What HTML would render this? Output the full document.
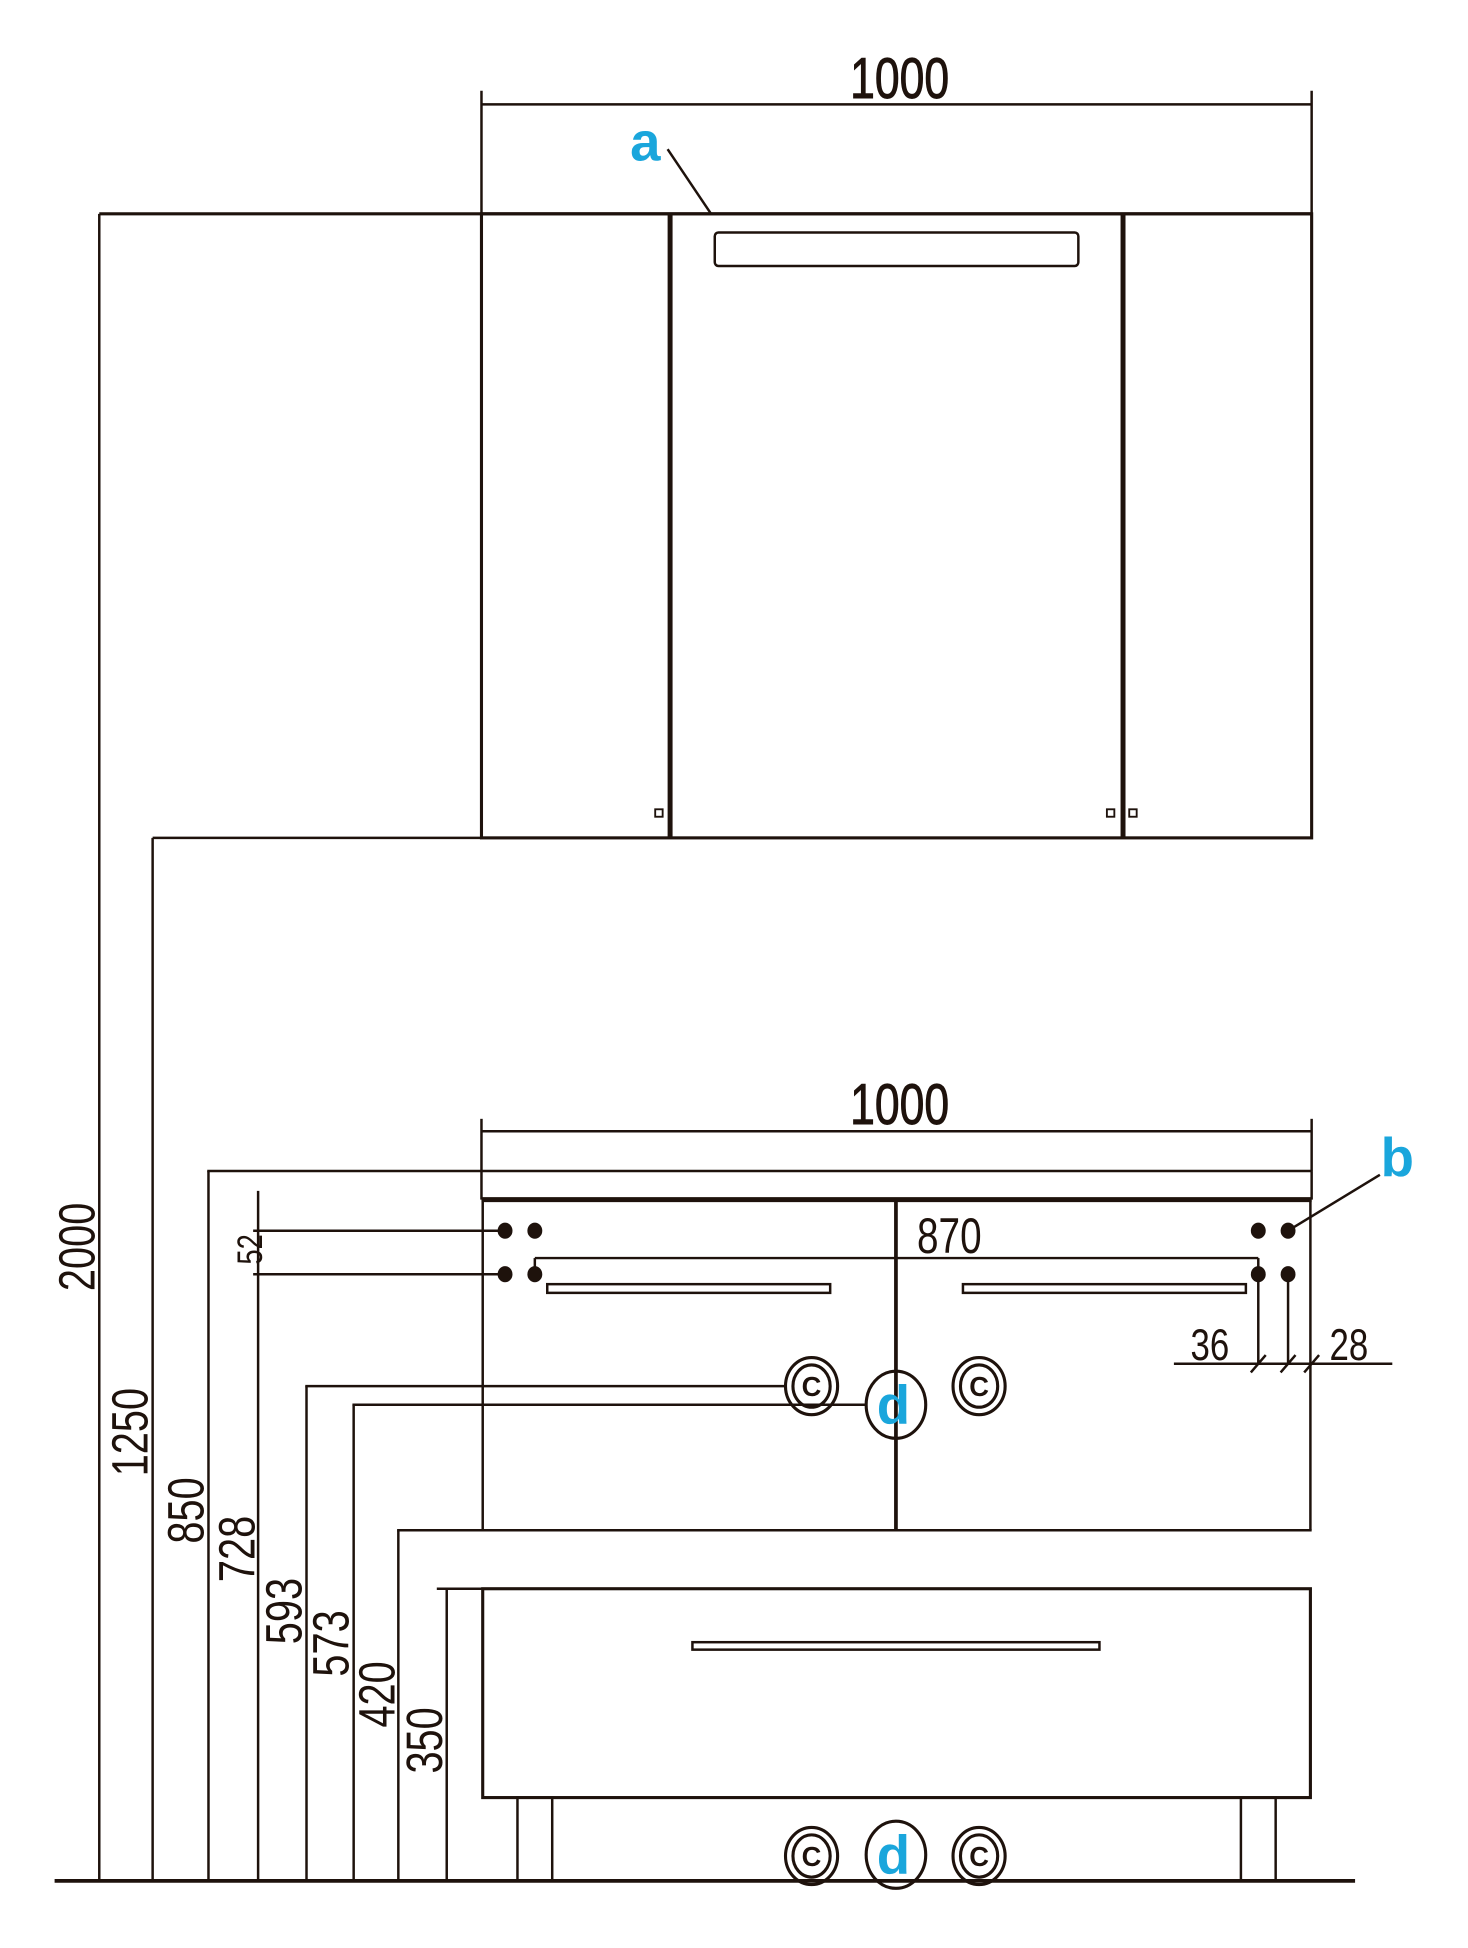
<!DOCTYPE html>
<html><head><meta charset="utf-8"><style>
html,body{margin:0;padding:0;background:#fff;}
svg{display:block;}
text{font-family:"Liberation Sans",sans-serif;fill:#1e120c;}
</style></head><body>
<svg width="1468" height="1948" viewBox="0 0 1183 1567" preserveAspectRatio="none" xmlns="http://www.w3.org/2000/svg">
<g stroke="#1e120c" fill="none" stroke-width="2">
<line x1="388" y1="84" x2="1057" y2="84"/>
<line x1="388" y1="73" x2="388" y2="172"/>
<line x1="1057" y1="73" x2="1057" y2="172"/>
<line x1="80" y1="172" x2="1057" y2="172" stroke-width="2.5"/>
<rect x="388" y="172" width="669" height="502" stroke-width="2.5"/>
<line x1="540" y1="172" x2="540" y2="674" stroke-width="4"/>
<line x1="905" y1="172" x2="905" y2="674" stroke-width="4"/>
<rect x="576" y="187" width="293" height="27" rx="3" stroke-width="2"/>
<rect x="528" y="651" width="6" height="6" stroke-width="1.5"/>
<rect x="892" y="651" width="6" height="6" stroke-width="1.5"/>
<rect x="910" y="651" width="6" height="6" stroke-width="1.5"/>
<line x1="538" y1="120" x2="573" y2="172"/>
<line x1="80" y1="172" x2="80" y2="1513"/>
<line x1="123" y1="674" x2="388" y2="674"/>
<line x1="123" y1="674" x2="123" y2="1513"/>
<line x1="388" y1="910" x2="1057" y2="910"/>
<line x1="388" y1="900" x2="388" y2="942"/>
<line x1="1057" y1="900" x2="1057" y2="942"/>
<line x1="167" y1="942" x2="1057" y2="942"/>
<line x1="168" y1="942" x2="168" y2="1513"/>
<line x1="388" y1="942" x2="388" y2="965"/>
<line x1="1057" y1="942" x2="1057" y2="965"/>
<line x1="388" y1="965" x2="1057" y2="965" stroke-width="4"/>
<line x1="208" y1="958" x2="208" y2="1513"/>
<line x1="204" y1="990" x2="407" y2="990"/>
<line x1="204" y1="1025" x2="407" y2="1025"/>
<line x1="389" y1="965" x2="389" y2="1231"/>
<line x1="1056" y1="965" x2="1056" y2="1231"/>
<line x1="722" y1="965" x2="722" y2="1231" stroke-width="3"/>
<line x1="320" y1="1231" x2="1057" y2="1231"/>
<line x1="431" y1="1012" x2="1014" y2="1012"/>
<line x1="431" y1="1012" x2="431" y2="1025"/>
<line x1="1014" y1="1012" x2="1014" y2="1025"/>
<rect x="441" y="1033" width="228" height="7"/>
<rect x="776" y="1033" width="228" height="7"/>
<line x1="1014" y1="1025" x2="1014" y2="1097"/>
<line x1="1038" y1="1025" x2="1038" y2="1097"/>
<line x1="946" y1="1097" x2="1122" y2="1097"/>
<line x1="1008" y1="1104" x2="1020" y2="1090"/>
<line x1="1032" y1="1104" x2="1044" y2="1090"/>
<line x1="1051" y1="1104" x2="1063" y2="1090"/>
<line x1="1038" y1="990" x2="1112" y2="945"/>
<line x1="246" y1="1115" x2="633" y2="1115"/>
<line x1="247" y1="1115" x2="247" y2="1513"/>
<line x1="284" y1="1130" x2="698" y2="1130"/>
<line x1="285" y1="1130" x2="285" y2="1513"/>
<line x1="321" y1="1231" x2="321" y2="1513"/>
<line x1="352" y1="1278" x2="1057" y2="1278"/>
<line x1="360" y1="1278" x2="360" y2="1513"/>
<rect x="389" y="1278" width="667" height="168" stroke-width="2.5"/>
<rect x="558" y="1321" width="328" height="6"/>
<rect x="417" y="1446" width="28" height="67"/>
<rect x="1000" y="1446" width="28" height="67"/>
<line x1="44" y1="1513" x2="1092" y2="1513" stroke-width="3"/>
<g stroke-width="2.5">
<ellipse cx="654" cy="1115" rx="21" ry="23"/><ellipse cx="654" cy="1115" rx="15" ry="17"/>
<ellipse cx="789" cy="1115" rx="21" ry="23"/><ellipse cx="789" cy="1115" rx="15" ry="17"/>
<ellipse cx="722" cy="1130" rx="24" ry="27"/>
<ellipse cx="654" cy="1493" rx="21" ry="23"/><ellipse cx="654" cy="1493" rx="15" ry="17"/>
<ellipse cx="789" cy="1493" rx="21" ry="23"/><ellipse cx="789" cy="1493" rx="15" ry="17"/>
<ellipse cx="722" cy="1492" rx="24" ry="27"/>
</g>
</g>
<g fill="#1e120c">
<ellipse cx="407" cy="990" rx="6" ry="6.5"/><ellipse cx="431" cy="990" rx="6" ry="6.5"/>
<ellipse cx="407" cy="1025" rx="6" ry="6.5"/><ellipse cx="431" cy="1025" rx="6" ry="6.5"/>
<ellipse cx="1014" cy="990" rx="6" ry="6.5"/><ellipse cx="1038" cy="990" rx="6" ry="6.5"/>
<ellipse cx="1014" cy="1025" rx="6" ry="6.5"/><ellipse cx="1038" cy="1025" rx="6" ry="6.5"/>
</g>
<g font-size="22" font-weight="bold" text-anchor="middle">
<text x="654" y="1123">C</text><text x="789" y="1123">C</text>
<text x="654" y="1501">C</text><text x="789" y="1501">C</text>
</g>
<g font-size="46">
<text transform="translate(725,79) scale(0.78,1)" text-anchor="middle" stroke="#1e120c" stroke-width="0.8">1000</text>
<text transform="translate(725,904) scale(0.78,1)" text-anchor="middle" stroke="#1e120c" stroke-width="0.8">1000</text>
<text transform="translate(765,1008) scale(0.78,1)" text-anchor="middle" font-size="40">870</text>
<text transform="translate(975,1094) scale(0.78,1)" text-anchor="middle" font-size="36">36</text>
<text transform="translate(1087,1094) scale(0.78,1)" text-anchor="middle" font-size="36">28</text>
</g>
<g font-size="41" text-anchor="middle">
<text transform="translate(76,1003) rotate(-90) scale(0.78,1)">2000</text>
<text transform="translate(119,1152) rotate(-90) scale(0.78,1)">1250</text>
<text transform="translate(164,1215) rotate(-90) scale(0.78,1)">850</text>
<text transform="translate(205,1246) rotate(-90) scale(0.78,1)">728</text>
<text transform="translate(243,1296) rotate(-90) scale(0.78,1)">593</text>
<text transform="translate(281,1322) rotate(-90) scale(0.78,1)">573</text>
<text transform="translate(318,1363) rotate(-90) scale(0.78,1)">420</text>
<text transform="translate(356,1400) rotate(-90) scale(0.78,1)">350</text>
<text transform="translate(211,1005) rotate(-90) scale(0.78,1)" font-size="28">52</text>
</g>
<g font-size="44" font-weight="bold" text-anchor="middle">
<text x="520" y="129" style="fill:#1aa6dc">a</text>
<text x="1126" y="946" style="fill:#1aa6dc">b</text>
<text x="720" y="1145" style="fill:#1aa6dc">d</text>
<text x="720" y="1507" style="fill:#1aa6dc">d</text>
</g>
</svg>
</body></html>
